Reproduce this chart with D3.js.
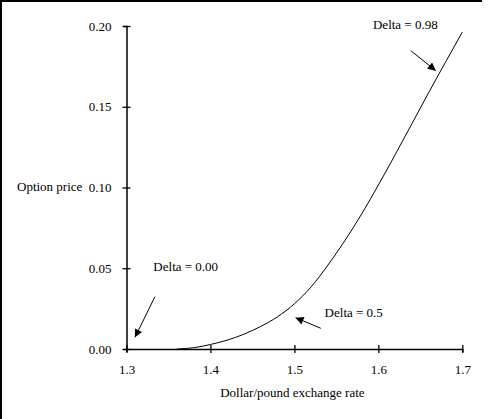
<!DOCTYPE html>
<html>
<head>
<meta charset="utf-8">
<script src="https://cdn.jsdelivr.net/npm/d3@7"></script>
<style>
  body { margin: 0; background: #fff; }
  text { font-family: "Liberation Serif", "Times New Roman", serif; font-size: 13px; fill: #000; }
</style>
</head>
<body>
<script>
// exchange rate (x) and option price (y)
const rates  = [1.36, 1.38, 1.40, 1.42, 1.44, 1.46, 1.48, 1.50, 1.52, 1.54, 1.56, 1.58, 1.60, 1.62, 1.64, 1.66, 1.68, 1.70];
const prices = [0.000, 0.0008, 0.0028, 0.0055, 0.0092, 0.014, 0.020, 0.028, 0.0385, 0.052, 0.067, 0.0835, 0.1015, 0.1203, 0.1395, 0.1588, 0.1776, 0.1962];

const xTicks = [1.3, 1.4, 1.5, 1.6, 1.7];
const yTicks = [0, 0.05, 0.10, 0.15, 0.20];

// annotations: label, label position, arrow tail, arrow head (data units)
const noteLabels = ["Delta = 0.00", "Delta = 0.5", "Delta = 0.98"];
const noteText   = [[1.332, 0.048], [1.536, 0.0201], [1.5936, 0.1981]];
const noteTail   = [[1.3339, 0.0324], [1.5315, 0.0128], [1.6387, 0.1847]];
const noteHead   = [[1.3101, 0.0072], [1.5014, 0.0194], [1.6685, 0.1723]];

const width = 488, height = 419;

const x = d3.scaleLinear().domain([1.3, 1.7]).range([126.5, 462.3]);
const y = d3.scaleLinear().domain([0, 0.2]).range([349, 26]);

const svg = d3.select("body").append("svg")
  .attr("width", width)
  .attr("height", height);

// frame (top and left edges only)
svg.append("line").attr("x1", 0).attr("x2", 482).attr("y1", 1).attr("y2", 1)
  .attr("stroke", "#000").attr("stroke-width", 2);
svg.append("line").attr("x1", 1).attr("x2", 1).attr("y1", 0).attr("y2", height)
  .attr("stroke", "#000").attr("stroke-width", 2);

const defs = svg.append("defs");
defs.append("marker")
  .attr("id", "head")
  .attr("viewBox", "0 0 10 10")
  .attr("refX", 10).attr("refY", 5)
  .attr("markerUnits", "userSpaceOnUse")
  .attr("markerWidth", 10).attr("markerHeight", 8)
  .attr("orient", "auto")
  .append("path")
  .attr("d", "M0,0L10,5L0,10z")
  .attr("fill", "#000");

// x axis
const xAxis = svg.append("g")
  .attr("transform", `translate(0,${y(0)})`)
  .call(d3.axisBottom(x).tickValues(xTicks).tickFormat(d3.format(".1f")).tickSizeOuter(0).tickSize(3));
xAxis.select(".domain").attr("stroke-width", 1.5);
xAxis.selectAll(".tick line").attr("y1", -4).attr("y2", 4).attr("stroke-width", 1.3);
xAxis.selectAll(".tick text").attr("y", 16).attr("dy", "0.71em")
  .style("font-family", "Liberation Serif").style("font-size", "13px");

// y axis
const yAxis = svg.append("g")
  .attr("transform", `translate(${x(1.3)},0)`)
  .call(d3.axisLeft(y).tickValues(yTicks).tickFormat(d3.format(".2f")).tickSizeOuter(0).tickSize(3));
yAxis.select(".domain").attr("stroke-width", 1.5);
yAxis.selectAll(".tick line").attr("x1", -4).attr("x2", 4).attr("stroke-width", 1.3);
yAxis.selectAll(".tick text").attr("x", -15)
  .style("font-family", "Liberation Serif").style("font-size", "13px");

// axis titles
svg.append("text")
  .attr("x", (x(1.3) + x(1.7)) / 2 - 2)
  .attr("y", 397)
  .attr("text-anchor", "middle")
  .text("Dollar/pound exchange rate");

svg.append("text")
  .attr("x", 17)
  .attr("y", 191)
  .text("Option price");

// curve
const pts = rates.map((r, i) => [r, prices[i]]);
svg.append("path")
  .datum(pts)
  .attr("fill", "none")
  .attr("stroke", "#000")
  .attr("stroke-width", 1)
  .attr("d", d3.line().x(d => x(d[0])).y(d => y(d[1])).curve(d3.curveMonotoneX));

// annotations
noteLabels.forEach((lab, i) => {
  svg.append("text")
    .attr("x", x(noteText[i][0]))
    .attr("y", y(noteText[i][1]))
    .text(lab);
  svg.append("line")
    .attr("x1", x(noteTail[i][0])).attr("y1", y(noteTail[i][1]))
    .attr("x2", x(noteHead[i][0])).attr("y2", y(noteHead[i][1]))
    .attr("stroke", "#000")
    .attr("stroke-width", 1)
    .attr("marker-end", "url(#head)");
});
</script>
</body>
</html>
